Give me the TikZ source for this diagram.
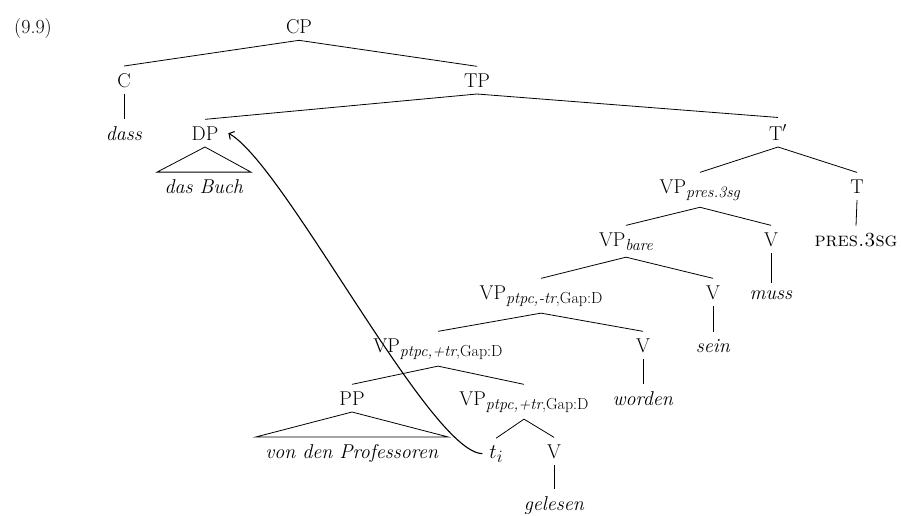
\documentclass[tikz,border=0pt]{standalone}
\usepackage{fontspec}
\usetikzlibrary{arrows.meta}
% category label with a lowered feature subscript
\newcommand{\catsub}[2]{#1\raisebox{-4pt}{\fontsize{16}{18}\selectfont #2}}
\begin{document}
\begin{tikzpicture}[x=1pt,y=-1pt,
  font=\fontsize{20}{24}\selectfont,
  lbl/.style={inner sep=7pt, outer sep=0pt, anchor=base},
  edge/.style={line width=0.8pt},
  mvt/.style={line width=1.1pt, -{Straight Barb[length=4pt,width=9pt]}}]
\useasboundingbox (0,0) rectangle (901,515);

% example number
\node[lbl] (num) at (33,33) {(9.9)};

% tree labels (x = centre, y = baseline)
\node[lbl] (CP) at (299,33) {CP};
\node[lbl] (C) at (124,87) {C};
\node[lbl] (TP) at (477,87) {TP};
\node[lbl] (dass) at (124,140) {\textit{dass}};
\node[lbl] (DP) at (205,140) {DP};
\node[lbl] (Tbar) at (778,140) {T$'$};
\node[lbl] (buch) at (204,193) {\textit{das Buch}};
\node[lbl] (VPpres) at (700,193) {\catsub{VP}{\textit{pres.3sg}}};
\node[lbl] (T) at (857,193) {T};
\node[lbl] (VPbare) at (626,246) {\catsub{VP}{\textit{bare}}};
\node[lbl] (Vmuss) at (771,246) {V};
\node[lbl] (pres) at (856,246) {\textsc{pres.3sg}};
\node[lbl] (muss) at (771,299) {\textit{muss}};
\node[lbl] (VPm) at (541,299) {\catsub{VP}{\textit{ptpc,-tr},Gap:D}};
\node[lbl] (Vsein) at (713,299) {V};
\node[lbl] (sein) at (713,352) {\textit{sein}};
\node[lbl] (VPpa) at (438,352) {\catsub{VP}{\textit{ptpc,+tr},Gap:D}};
\node[lbl] (Vworden) at (643,352) {V};
\node[lbl] (worden) at (643,405) {\textit{worden}};
\node[lbl] (PP) at (352,405) {PP};
\node[lbl] (VPpb) at (524,405) {\catsub{VP}{\textit{ptpc,+tr},Gap:D}};
\node[lbl] (prof) at (352,458) {\textit{von den Professoren}};
\node[lbl] (ti) at (496,458) {$t$\raisebox{-4pt}{\fontsize{16}{18}\selectfont$i$}};
\node[lbl] (Vgel) at (554,458) {V};
\node[lbl] (gelesen) at (554,510) {\textit{gelesen}};

% branches
\draw[edge] (CP.south) -- (C.north);
\draw[edge] (CP.south) -- (TP.north);
\draw[edge] (C.south) -- (dass.north);
\draw[edge] (TP.south) -- (DP.north);
\draw[edge] (TP.south) -- (Tbar.north);
\draw[edge] (Tbar.south) -- (VPpres.north);
\draw[edge] (Tbar.south) -- (T.north);
\draw[edge] (T.south) -- (pres.north);
\draw[edge] (VPpres.south) -- (VPbare.north);
\draw[edge] (VPpres.south) -- (Vmuss.north);
\draw[edge] (Vmuss.south) -- (muss.north);
\draw[edge] (VPbare.south) -- (VPm.north);
\draw[edge] (VPbare.south) -- (Vsein.north);
\draw[edge] (Vsein.south) -- (sein.north);
\draw[edge] (VPm.south) -- (VPpa.north);
\draw[edge] (VPm.south) -- (Vworden.north);
\draw[edge] (Vworden.south) -- (worden.north);
\draw[edge] (VPpa.south) -- (PP.north);
\draw[edge] (VPpa.south) -- (VPpb.north);
\draw[edge] (VPpb.south) -- (ti.north);
\draw[edge] (VPpb.south) -- (Vgel.north);
\draw[edge] (Vgel.south) -- (gelesen.north);

% roofs over unanalysed phrases
\draw[edge] (DP.south) -- ([xshift=-47pt]buch.north) -- ([xshift=47pt]buch.north) -- cycle;
\draw[edge] (PP.south) -- ([xshift=-96pt]prof.north) -- ([xshift=96pt]prof.north) -- cycle;

% movement of the object
\draw[mvt] (ti.west) .. controls (430,453) and (285,165) .. ([xshift=3pt]DP.east);
\end{tikzpicture}
\end{document}
